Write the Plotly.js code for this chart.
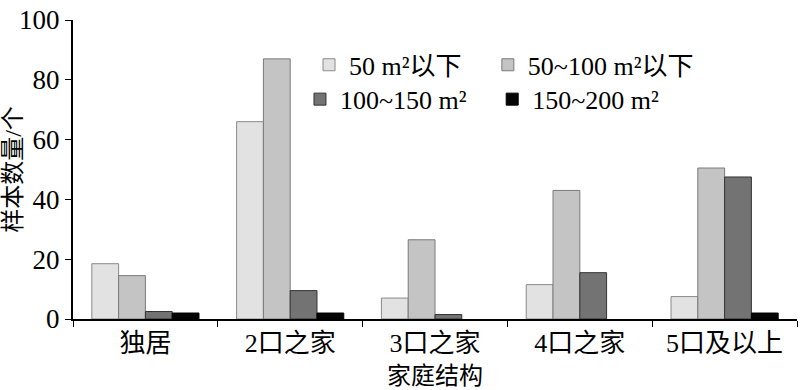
<!DOCTYPE html>
<html><head><meta charset="utf-8">
<script src="https://cdn.plot.ly/plotly-3.0.1.min.js"></script>
<style>body{margin:0;background:#fff}#c{width:800px;height:390px}</style>
</head><body><div id="c"></div>
<script>
var categories = ['独居', '2口之家', '3口之家', '4口之家', '5口及以上'];
var seriesNames = ['50 m²以下', '50~100 m²以下', '100~150 m²', '150~200 m²'];
var s50 = [18.5, 66, 7, 11.5, 7.5];
var s50_100 = [14.5, 87, 26.5, 43, 50.5];
var s100_150 = [2.5, 9.5, 1.5, 15.5, 47.5];
var s150_200 = [2, 2, null, null, 2];
var yTicks = [0, 20, 40, 60, 80, 100];

var fontFam = "'Liberation Serif', 'Noto Sans CJK SC', serif";
var colors = ['#e2e2e2', '#c4c4c4', '#737373', '#050505'];
var lines = ['#8a8a8a', '#7a7a7a', '#333333', '#000000'];
var vals = [s50, s50_100, s100_150, s150_200];
var legends = ['legend', 'legend2', 'legend3', 'legend4'];

var traces = vals.map(function(v, i){
  return {type:'bar', x:categories, y:v, name:seriesNames[i], legend:legends[i],
    marker:{color:colors[i], line:{color:lines[i], width:1}}};
});

var legFont = {family:fontFam, size:26, color:'#000'};
function leg(x, y){
  return {orientation:'h', x:x, y:y, xanchor:'left', yanchor:'middle',
    font:legFont, itemwidth:30, bgcolor:'rgba(0,0,0,0)'};
}
var layout = {
  width:800, height:390,
  margin:{l:73, r:3, t:20, b:71},
  paper_bgcolor:'#fff', plot_bgcolor:'#fff',
  font:{family:fontFam, size:26, color:'#000'},
  barmode:'group', bargap:0.26, bargroupgap:0,
  showlegend:true,
  legend:leg(0.326, 0.85),
  legend2:leg(0.573, 0.85),
  legend3:leg(0.3135, 0.735),
  legend4:leg(0.579, 0.735),
  xaxis:{type:'category', showline:true, linecolor:'#000', linewidth:2,
    ticks:'outside', tickson:'boundaries', ticklen:6, tickcolor:'#000',
    tickfont:{family:fontFam, size:26}, showgrid:false,
    title:{text:'家庭结构', font:{family:fontFam, size:24}, standoff:10}},
  yaxis:{range:[0,100], tickvals:yTicks, showline:true, linecolor:'#000', linewidth:2,
    ticks:'outside', ticklen:6, tickcolor:'#000', showgrid:false, zeroline:false,
    tickfont:{family:fontFam, size:27},
    title:{text:'样本数量/个', font:{family:fontFam, size:24}, standoff:2}}
};
Plotly.newPlot('c', traces, layout, {displayModeBar:false, staticPlot:true});
</script></body></html>
